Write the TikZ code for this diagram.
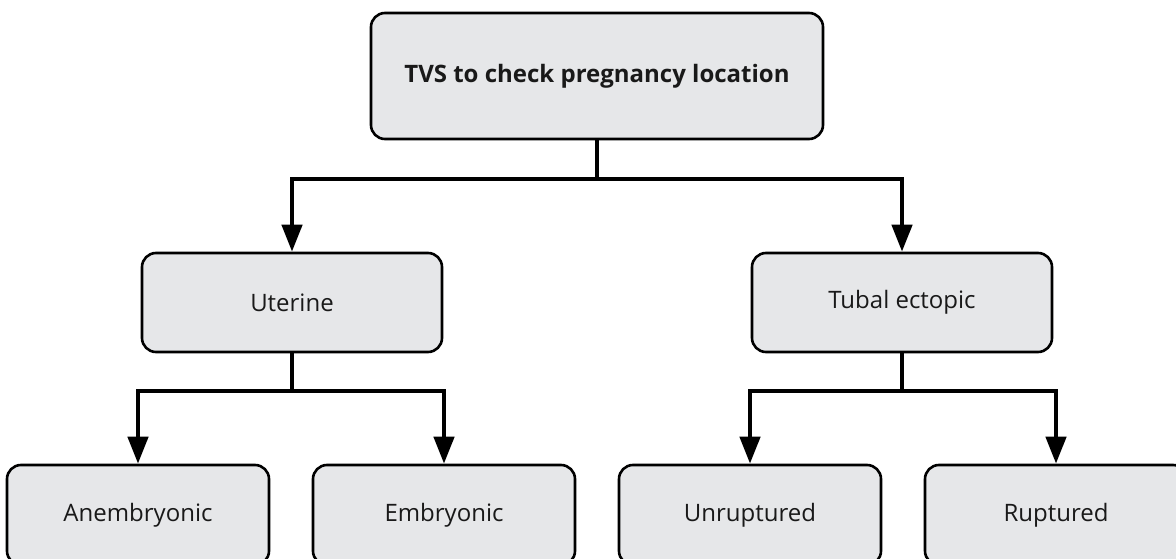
\documentclass[tikz,border=0pt]{standalone}
\usepackage{fontspec}
\setmainfont{Open Sans}
\usetikzlibrary{arrows.meta}
\definecolor{boxfill}{HTML}{E6E7E9}
\begin{document}
\begin{tikzpicture}[x=1pt,y=-1pt,
  box/.style={draw=black, fill=boxfill, line width=2.6pt, rounded corners=14pt,
    font=\fontsize{24}{28}\selectfont, text=black!90, inner sep=0pt},
  conn/.style={line width=4.5pt, -{Triangle[length=27pt,width=20pt]}},
  bus/.style={line width=4.5pt}]
\useasboundingbox (0,0) rectangle (1176,559);
\clip (0,0) rectangle (1176,559);

% boxes
\node[box, minimum width=452pt, minimum height=126pt, font=\fontsize{24}{28}\selectfont\bfseries]
  (top) at (597,76) {\raisebox{5pt}{TVS to check pregnancy location}};
\node[box, minimum width=300pt, minimum height=99pt] (ut) at (292,302.5) {Uterine};
\node[box, minimum width=300pt, minimum height=99pt] (tu) at (902,302.5) {Tubal ectopic};
\node[box, minimum width=262pt, minimum height=100pt] (an) at (138,515) {Anembryonic};
\node[box, minimum width=262pt, minimum height=100pt] (em) at (444,515) {Embryonic};
\node[box, minimum width=262pt, minimum height=100pt] (un) at (750,515) {Unruptured};
\node[box, minimum width=262pt, minimum height=100pt] (ru) at (1056,515) {Ruptured};

% bus junctions
\coordinate (j1) at (597,179);
\coordinate (j2) at (292,391);
\coordinate (j3) at (902,391);

% connectors
\draw[bus] (top.south) -- (j1);
\draw[conn] (j1) -| (ut.north);
\draw[conn] (j1) -| (tu.north);

\draw[bus] (ut.south) -- (j2);
\draw[conn] (j2) -| (an.north);
\draw[conn] (j2) -| (em.north);

\draw[bus] (tu.south) -- (j3);
\draw[conn] (j3) -| (un.north);
\draw[conn] (j3) -| (ru.north);
\end{tikzpicture}
\end{document}
